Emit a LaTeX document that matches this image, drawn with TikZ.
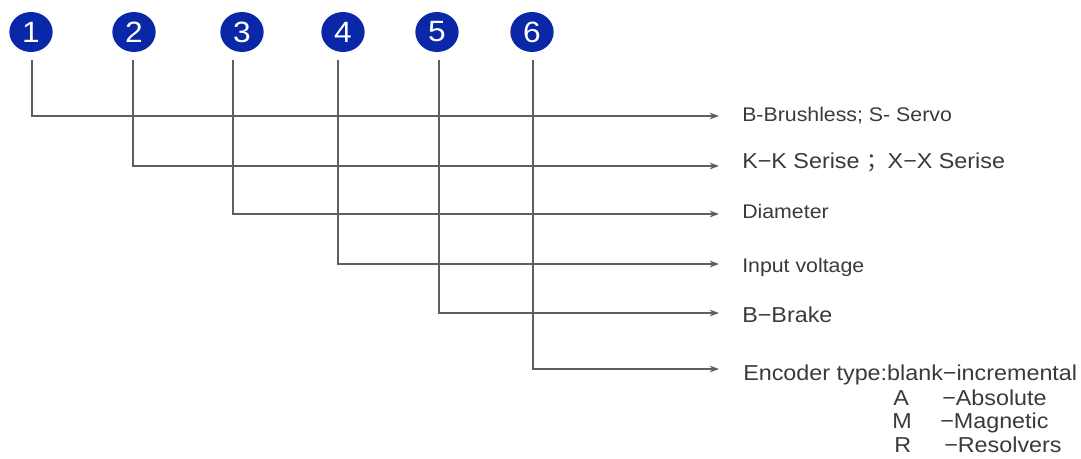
\documentclass[tikz,border=0pt]{standalone}
\usepackage{fontspec}
\setmainfont[FakeStretch=1.08]{Liberation Sans}
\newfontfamily\cjk{Noto Sans CJK SC}
\usetikzlibrary{arrows.meta,positioning,shapes.geometric}
\definecolor{numblue}{HTML}{0A27A8}
\definecolor{linegray}{HTML}{5E5E5E}
\definecolor{txtgray}{HTML}{3A3A3A}
\tikzset{
    num/.style={
        ellipse,
        fill=numblue,
        text=white,
        minimum width=32.5pt,
        minimum height=30pt,
        inner sep=0pt,
        font=\fontsize{22pt}{22pt}\selectfont,
    },
    lbl/.style={
        anchor=base west,
        inner sep=0pt,
        text=txtgray,
        font=\fontsize{14.8pt}{16pt}\selectfont,
    },
    lblbig/.style={
        lbl,
        font=\fontsize{16.2pt}{18pt}\selectfont,
    },
    lead/.style={
        draw=linegray,
        line width=0.8pt,
        -{Stealth[length=7pt,width=5pt]},
        shorten <=6pt,
    },
  }

\begin{document}
\begin{tikzpicture}[x=0.75pt,y=-0.75pt]
    \useasboundingbox (0,0) rectangle (1081,458);

    \node [num] (n1) at (31,32) {1};
    \node [num] (n2) at (134,32) {2};
    \node [num] (n3) at (242,32) {3};
    \node [num] (n4) at (343,32) {4};
    \node [num] (n5) at (437,32) {5};
    \node [num] (n6) at (532,32) {6};

    \coordinate (e1) at (719,116);
    \coordinate (e2) at (719,166);
    \coordinate (e3) at (719,214);
    \coordinate (e4) at (719,264);
    \coordinate (e5) at (719,313);
    \coordinate (e6) at (719,369);

    \node [lbl] (t1) at (742,121) {B-Brushless; S- Servo};
    \node [lblbig] (t2) at (742,168) {K−K Serise {\cjk ；}X−X Serise};
    \node [lbl] (t3) at (742,218) {Diameter};
    \node [lbl] (t4) at (742,272) {Input voltage};
    \node [lblbig] (t5) at (742,322) {B−Brake};
    \node [lblbig] (t6) at (743,380) {Encoder type:blank−incremental};
    \node [lblbig] (a1) at (893,405) {A};
    \node [lblbig] (a2) at (942,405) {−Absolute};
    \node [lblbig] (m1) at (892,428) {M};
    \node [lblbig] (m2) at (940,428) {−Magnetic};
    \node [lblbig] (r1) at (894,452) {R};
    \node [lblbig] (r2) at (944,452) {−Resolvers};

    \draw [lead] ([xshift=0.75pt]n1.south) |- (e1);
    \draw [lead] ([xshift=-0.75pt]n2.south) |- (e2);
    \draw [lead] ([xshift=-6.75pt]n3.south) |- (e3);
    \draw [lead] ([xshift=-3.75pt]n4.south) |- (e4);
    \draw [lead] ([xshift=1.5pt]n5.south) |- (e5);
    \draw [lead] ([xshift=0.75pt]n6.south) |- (e6);

\end{tikzpicture}
\end{document}
